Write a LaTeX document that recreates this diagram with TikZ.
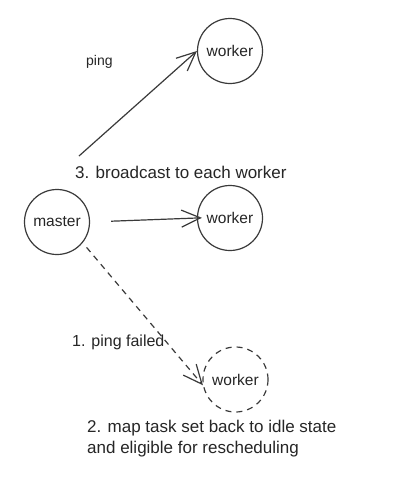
\documentclass[tikz,border=0pt]{standalone}
\usepackage{fontspec}
\setmainfont{Liberation Sans}
\usetikzlibrary{arrows.meta}
\definecolor{ink}{HTML}{3A3A3A}
\begin{document}
\begin{tikzpicture}[x=1pt,y=-1pt,
  proc/.style={circle,draw=ink,line width=1.2pt,minimum size=65pt,inner sep=0pt,
    font=\fontsize{15.5}{18}\selectfont,text=black!85},
  deadproc/.style={proc,dashed,dash pattern=on 6pt off 5pt},
  lbl/.style={anchor=base west,inner sep=0pt,font=\fontsize{17}{21}\selectfont,text=black!85},
  arr/.style={draw=ink,line width=1.2pt,-{Straight Barb[length=19pt,width=17pt,line width=1.2pt]}},
]
\fill[white] (0,0) rectangle (410,479);
\useasboundingbox (0,0) rectangle (410,479);

\node[proc] (w1) at (230,51) {worker};
\node[proc] (w2) at (230,218) {worker};
\node[proc] (m) at (57,222) {master};
\node[deadproc] (d) at (235.5,379.5) {worker};

\coordinate (a1) at (79,156);

\draw[arr] (a1) -- (w1.west);
\draw[arr,shorten <=21pt,shorten >=-5pt] (m.east) -- (w2.west);
\draw[arr,dashed,dash pattern=on 6pt off 5pt,shorten <=6pt] (m.-39) -- (d.190);

\node[lbl,font=\fontsize{14}{17}\selectfont] (tping) at (86,65) {ping};
\node[lbl] (tbcast) at (75,178) {3. broadcast to each worker};
\node[lbl,font=\fontsize{16}{19}\selectfont] (tfail) at (72,346) {1. ping failed};
\node[lbl] (tmap1) at (87,432) {2. map task set back to idle state};
\node[lbl] (tmap2) at (87,453) {and eligible for rescheduling};
\end{tikzpicture}
\end{document}
